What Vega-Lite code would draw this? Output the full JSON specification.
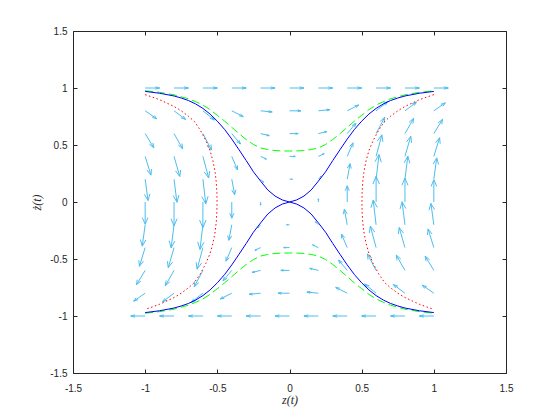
{
"$schema":"https://vega.github.io/schema/vega-lite/v6.json",
"width":433,"height":342,
"autosize":{"type":"none"},
"padding":{"left":73,"top":31,"right":54,"bottom":47},
"background":"white",
"config":{"view":{"stroke":"#262626","strokeWidth":1},
"axis":{"domain":false,"grid":false,"tickColor":"#262626","tickSize":-4,"tickWidth":1,"labelFont":"Liberation Sans","labelFontSize":10,"labelColor":"#262626","labelFlush":false,"labelOverlap":false,"titleFont":"Liberation Serif","titleFontStyle":"italic","titleFontWeight":"normal","titleFontSize":12,"titleColor":"#262626"}},
"datasets":{
"arrows":[
{"x":-1,"y":1,"tx":-0.9,"ty":1,"ax":-0.93,"ay":1.01,"bx":-0.93,"by":0.99},
{"x":-0.8,"y":1,"tx":-0.7,"ty":1,"ax":-0.73,"ay":1.01,"bx":-0.73,"by":0.99},
{"x":-0.6,"y":1,"tx":-0.5,"ty":1,"ax":-0.53,"ay":1.01,"bx":-0.53,"by":0.99},
{"x":-0.4,"y":1,"tx":-0.3,"ty":1,"ax":-0.33,"ay":1.01,"bx":-0.33,"by":0.99},
{"x":-0.2,"y":1,"tx":-0.1,"ty":1,"ax":-0.13,"ay":1.01,"bx":-0.13,"by":0.99},
{"x":0,"y":1,"tx":0.1,"ty":1,"ax":0.07,"ay":1.01,"bx":0.07,"by":0.99},
{"x":0.2,"y":1,"tx":0.3,"ty":1,"ax":0.27,"ay":1.01,"bx":0.27,"by":0.99},
{"x":0.4,"y":1,"tx":0.5,"ty":1,"ax":0.47,"ay":1.01,"bx":0.47,"by":0.99},
{"x":0.6,"y":1,"tx":0.7,"ty":1,"ax":0.67,"ay":1.01,"bx":0.67,"by":0.99},
{"x":0.8,"y":1,"tx":0.9,"ty":1,"ax":0.87,"ay":1.01,"bx":0.87,"by":0.99},
{"x":1,"y":1,"tx":1.1,"ty":1,"ax":1.07,"ay":1.01,"bx":1.07,"by":0.99},
{"x":-1,"y":0.8,"tx":-0.92,"ty":0.73,"ax":-0.937,"ay":0.759,"bx":-0.951,"by":0.743},
{"x":-0.8,"y":0.8,"tx":-0.72,"ty":0.724,"ax":-0.736,"ay":0.755,"bx":-0.752,"by":0.739},
{"x":-0.6,"y":0.8,"tx":-0.52,"ty":0.719,"ax":-0.536,"ay":0.751,"bx":-0.552,"by":0.735},
{"x":-0.4,"y":0.8,"tx":-0.32,"ty":0.749,"ax":-0.339,"ay":0.772,"bx":-0.349,"by":0.756},
{"x":-0.2,"y":0.8,"tx":-0.12,"ty":0.79,"ax":-0.143,"ay":0.801,"bx":-0.145,"by":0.785},
{"x":0,"y":0.8,"tx":0.08,"ty":0.8,"ax":0.056,"ay":0.808,"bx":0.056,"by":0.792},
{"x":0.2,"y":0.8,"tx":0.28,"ty":0.81,"ax":0.255,"ay":0.815,"bx":0.257,"by":0.799},
{"x":0.4,"y":0.8,"tx":0.48,"ty":0.851,"ax":0.451,"ay":0.844,"bx":0.461,"by":0.828},
{"x":0.6,"y":0.8,"tx":0.68,"ty":0.881,"ax":0.648,"ay":0.865,"bx":0.664,"by":0.849},
{"x":0.8,"y":0.8,"tx":0.88,"ty":0.876,"ax":0.848,"ay":0.861,"bx":0.864,"by":0.845},
{"x":1,"y":0.8,"tx":1.08,"ty":0.87,"ax":1.049,"ay":0.857,"bx":1.063,"by":0.841},
{"x":-1,"y":0.6,"tx":-0.94,"ty":0.475,"ax":-0.946,"ay":0.519,"bx":-0.971,"by":0.507},
{"x":-0.8,"y":0.6,"tx":-0.74,"ty":0.466,"ax":-0.745,"ay":0.512,"bx":-0.771,"by":0.5},
{"x":-0.6,"y":0.6,"tx":-0.54,"ty":0.456,"ax":-0.544,"ay":0.505,"bx":-0.572,"by":0.493},
{"x":-0.4,"y":0.6,"tx":-0.34,"ty":0.509,"ax":-0.349,"ay":0.542,"bx":-0.367,"by":0.53},
{"x":-0.2,"y":0.6,"tx":-0.14,"ty":0.582,"ax":-0.156,"ay":0.593,"bx":-0.16,"by":0.581},
{"x":0,"y":0.6,"tx":0.06,"ty":0.6,"ax":0.042,"ay":0.606,"bx":0.042,"by":0.594},
{"x":0.2,"y":0.6,"tx":0.26,"ty":0.618,"ax":0.24,"ay":0.619,"bx":0.244,"by":0.607},
{"x":0.4,"y":0.6,"tx":0.46,"ty":0.691,"ax":0.433,"ay":0.67,"bx":0.451,"by":0.658},
{"x":0.6,"y":0.6,"tx":0.66,"ty":0.744,"ax":0.628,"ay":0.707,"bx":0.656,"by":0.695},
{"x":0.8,"y":0.6,"tx":0.86,"ty":0.734,"ax":0.829,"ay":0.7,"bx":0.855,"by":0.688},
{"x":1,"y":0.6,"tx":1.06,"ty":0.725,"ax":1.03,"ay":0.694,"bx":1.055,"by":0.682},
{"x":-1,"y":0.4,"tx":-0.96,"ty":0.236,"ax":-0.956,"ay":0.289,"bx":-0.988,"by":0.281},
{"x":-0.8,"y":0.4,"tx":-0.76,"ty":0.224,"ax":-0.754,"ay":0.281,"bx":-0.79,"by":0.273},
{"x":-0.6,"y":0.4,"tx":-0.56,"ty":0.211,"ax":-0.553,"ay":0.272,"bx":-0.591,"by":0.264},
{"x":-0.4,"y":0.4,"tx":-0.36,"ty":0.281,"ax":-0.36,"ay":0.321,"bx":-0.384,"by":0.313},
{"x":-0.2,"y":0.4,"tx":-0.16,"ty":0.376,"ax":-0.17,"ay":0.387,"bx":-0.174,"by":0.379},
{"x":0,"y":0.4,"tx":0.04,"ty":0.4,"ax":0.028,"ay":0.404,"bx":0.028,"by":0.396},
{"x":0.2,"y":0.4,"tx":0.24,"ty":0.424,"ax":0.226,"ay":0.421,"bx":0.23,"by":0.413},
{"x":0.4,"y":0.4,"tx":0.44,"ty":0.519,"ax":0.416,"ay":0.487,"bx":0.44,"by":0.479},
{"x":0.6,"y":0.4,"tx":0.64,"ty":0.589,"ax":0.609,"ay":0.536,"bx":0.647,"by":0.528},
{"x":0.8,"y":0.4,"tx":0.84,"ty":0.576,"ax":0.81,"ay":0.527,"bx":0.846,"by":0.519},
{"x":1,"y":0.4,"tx":1.04,"ty":0.564,"ax":1.012,"ay":0.519,"bx":1.044,"by":0.511},
{"x":-1,"y":0.2,"tx":-0.98,"ty":0.013,"ax":-0.967,"ay":0.071,"bx":-1.005,"by":0.067},
{"x":-0.8,"y":0.2,"tx":-0.78,"ty":-0.002,"ax":-0.766,"ay":0.061,"bx":-0.806,"by":0.057},
{"x":-0.6,"y":0.2,"tx":-0.58,"ty":-0.016,"ax":-0.564,"ay":0.051,"bx":-0.608,"by":0.047},
{"x":-0.4,"y":0.2,"tx":-0.38,"ty":0.064,"ax":-0.372,"ay":0.107,"bx":-0.4,"by":0.103},
{"x":-0.2,"y":0.2,"tx":-0.18,"ty":0.173,"ax":-0.183,"ay":0.183,"bx":-0.189,"by":0.179},
{"x":0,"y":0.2,"tx":0.02,"ty":0.2,"ax":0.014,"ay":0.202,"bx":0.014,"by":0.198},
{"x":0.2,"y":0.2,"tx":0.22,"ty":0.227,"ax":0.211,"ay":0.221,"bx":0.217,"by":0.217},
{"x":0.4,"y":0.2,"tx":0.42,"ty":0.336,"ax":0.4,"ay":0.297,"bx":0.428,"by":0.293},
{"x":0.6,"y":0.2,"tx":0.62,"ty":0.416,"ax":0.592,"ay":0.353,"bx":0.636,"by":0.349},
{"x":0.8,"y":0.2,"tx":0.82,"ty":0.402,"ax":0.794,"ay":0.343,"bx":0.834,"by":0.339},
{"x":1,"y":0.2,"tx":1.02,"ty":0.387,"ax":0.995,"ay":0.333,"bx":1.033,"by":0.329},
{"x":-1,"y":0,"tx":-1,"ty":-0.195,"ax":-0.981,"ay":-0.137,"bx":-1.02,"by":-0.137},
{"x":-0.8,"y":0,"tx":-0.8,"ty":-0.21,"ax":-0.779,"ay":-0.147,"bx":-0.821,"by":-0.147},
{"x":-0.6,"y":0,"tx":-0.6,"ty":-0.225,"ax":-0.578,"ay":-0.158,"bx":-0.623,"by":-0.158},
{"x":-0.4,"y":0,"tx":-0.4,"ty":-0.142,"ax":-0.386,"ay":-0.099,"bx":-0.414,"by":-0.099},
{"x":-0.2,"y":0,"tx":-0.2,"ty":-0.028,"ax":-0.197,"ay":-0.02,"bx":-0.203,"by":-0.02},
{"x":0,"y":0,"tx":0,"ty":0,"ax":0,"ay":0,"bx":0,"by":0},
{"x":0.2,"y":0,"tx":0.2,"ty":0.028,"ax":0.197,"ay":0.02,"bx":0.203,"by":0.02},
{"x":0.4,"y":0,"tx":0.4,"ty":0.142,"ax":0.386,"ay":0.099,"bx":0.414,"by":0.099},
{"x":0.6,"y":0,"tx":0.6,"ty":0.225,"ax":0.578,"ay":0.158,"bx":0.623,"by":0.158},
{"x":0.8,"y":0,"tx":0.8,"ty":0.21,"ax":0.779,"ay":0.147,"bx":0.821,"by":0.147},
{"x":1,"y":0,"tx":1,"ty":0.195,"ax":0.981,"ay":0.137,"bx":1.02,"by":0.137},
{"x":-1,"y":-0.2,"tx":-1.02,"ty":-0.387,"ax":-0.995,"ay":-0.333,"bx":-1.033,"by":-0.329},
{"x":-0.8,"y":-0.2,"tx":-0.82,"ty":-0.402,"ax":-0.794,"ay":-0.343,"bx":-0.834,"by":-0.339},
{"x":-0.6,"y":-0.2,"tx":-0.62,"ty":-0.416,"ax":-0.592,"ay":-0.353,"bx":-0.636,"by":-0.349},
{"x":-0.4,"y":-0.2,"tx":-0.42,"ty":-0.336,"ax":-0.4,"ay":-0.297,"bx":-0.428,"by":-0.293},
{"x":-0.2,"y":-0.2,"tx":-0.22,"ty":-0.227,"ax":-0.211,"ay":-0.221,"bx":-0.217,"by":-0.217},
{"x":0,"y":-0.2,"tx":-0.02,"ty":-0.2,"ax":-0.014,"ay":-0.202,"bx":-0.014,"by":-0.198},
{"x":0.2,"y":-0.2,"tx":0.18,"ty":-0.173,"ax":0.183,"ay":-0.183,"bx":0.189,"by":-0.179},
{"x":0.4,"y":-0.2,"tx":0.38,"ty":-0.064,"ax":0.372,"ay":-0.107,"bx":0.4,"by":-0.103},
{"x":0.6,"y":-0.2,"tx":0.58,"ty":0.016,"ax":0.564,"ay":-0.051,"bx":0.608,"by":-0.047},
{"x":0.8,"y":-0.2,"tx":0.78,"ty":0.002,"ax":0.766,"ay":-0.061,"bx":0.806,"by":-0.057},
{"x":1,"y":-0.2,"tx":0.98,"ty":-0.013,"ax":0.967,"ay":-0.071,"bx":1.005,"by":-0.067},
{"x":-1,"y":-0.4,"tx":-1.04,"ty":-0.564,"ax":-1.012,"ay":-0.519,"bx":-1.044,"by":-0.511},
{"x":-0.8,"y":-0.4,"tx":-0.84,"ty":-0.576,"ax":-0.81,"ay":-0.527,"bx":-0.846,"by":-0.519},
{"x":-0.6,"y":-0.4,"tx":-0.64,"ty":-0.589,"ax":-0.609,"ay":-0.536,"bx":-0.647,"by":-0.528},
{"x":-0.4,"y":-0.4,"tx":-0.44,"ty":-0.519,"ax":-0.416,"ay":-0.487,"bx":-0.44,"by":-0.479},
{"x":-0.2,"y":-0.4,"tx":-0.24,"ty":-0.424,"ax":-0.226,"ay":-0.421,"bx":-0.23,"by":-0.413},
{"x":0,"y":-0.4,"tx":-0.04,"ty":-0.4,"ax":-0.028,"ay":-0.404,"bx":-0.028,"by":-0.396},
{"x":0.2,"y":-0.4,"tx":0.16,"ty":-0.376,"ax":0.17,"ay":-0.387,"bx":0.174,"by":-0.379},
{"x":0.4,"y":-0.4,"tx":0.36,"ty":-0.281,"ax":0.36,"ay":-0.321,"bx":0.384,"by":-0.313},
{"x":0.6,"y":-0.4,"tx":0.56,"ty":-0.211,"ax":0.553,"ay":-0.272,"bx":0.591,"by":-0.264},
{"x":0.8,"y":-0.4,"tx":0.76,"ty":-0.224,"ax":0.754,"ay":-0.281,"bx":0.79,"by":-0.273},
{"x":1,"y":-0.4,"tx":0.96,"ty":-0.236,"ax":0.956,"ay":-0.289,"bx":0.988,"by":-0.281},
{"x":-1,"y":-0.6,"tx":-1.06,"ty":-0.725,"ax":-1.03,"ay":-0.694,"bx":-1.055,"by":-0.682},
{"x":-0.8,"y":-0.6,"tx":-0.86,"ty":-0.734,"ax":-0.829,"ay":-0.7,"bx":-0.855,"by":-0.688},
{"x":-0.6,"y":-0.6,"tx":-0.66,"ty":-0.744,"ax":-0.628,"ay":-0.707,"bx":-0.656,"by":-0.695},
{"x":-0.4,"y":-0.6,"tx":-0.46,"ty":-0.691,"ax":-0.433,"ay":-0.67,"bx":-0.451,"by":-0.658},
{"x":-0.2,"y":-0.6,"tx":-0.26,"ty":-0.618,"ax":-0.24,"ay":-0.619,"bx":-0.244,"by":-0.607},
{"x":0,"y":-0.6,"tx":-0.06,"ty":-0.6,"ax":-0.042,"ay":-0.606,"bx":-0.042,"by":-0.594},
{"x":0.2,"y":-0.6,"tx":0.14,"ty":-0.582,"ax":0.156,"ay":-0.593,"bx":0.16,"by":-0.581},
{"x":0.4,"y":-0.6,"tx":0.34,"ty":-0.509,"ax":0.349,"ay":-0.542,"bx":0.367,"by":-0.53},
{"x":0.6,"y":-0.6,"tx":0.54,"ty":-0.456,"ax":0.544,"ay":-0.505,"bx":0.572,"by":-0.493},
{"x":0.8,"y":-0.6,"tx":0.74,"ty":-0.466,"ax":0.745,"ay":-0.512,"bx":0.771,"by":-0.5},
{"x":1,"y":-0.6,"tx":0.94,"ty":-0.475,"ax":0.946,"ay":-0.519,"bx":0.971,"by":-0.507},
{"x":-1,"y":-0.8,"tx":-1.08,"ty":-0.87,"ax":-1.049,"ay":-0.857,"bx":-1.063,"by":-0.841},
{"x":-0.8,"y":-0.8,"tx":-0.88,"ty":-0.876,"ax":-0.848,"ay":-0.861,"bx":-0.864,"by":-0.845},
{"x":-0.6,"y":-0.8,"tx":-0.68,"ty":-0.881,"ax":-0.648,"ay":-0.865,"bx":-0.664,"by":-0.849},
{"x":-0.4,"y":-0.8,"tx":-0.48,"ty":-0.851,"ax":-0.451,"ay":-0.844,"bx":-0.461,"by":-0.828},
{"x":-0.2,"y":-0.8,"tx":-0.28,"ty":-0.81,"ax":-0.255,"ay":-0.815,"bx":-0.257,"by":-0.799},
{"x":0,"y":-0.8,"tx":-0.08,"ty":-0.8,"ax":-0.056,"ay":-0.808,"bx":-0.056,"by":-0.792},
{"x":0.2,"y":-0.8,"tx":0.12,"ty":-0.79,"ax":0.143,"ay":-0.801,"bx":0.145,"by":-0.785},
{"x":0.4,"y":-0.8,"tx":0.32,"ty":-0.749,"ax":0.339,"ay":-0.772,"bx":0.349,"by":-0.756},
{"x":0.6,"y":-0.8,"tx":0.52,"ty":-0.719,"ax":0.536,"ay":-0.751,"bx":0.552,"by":-0.735},
{"x":0.8,"y":-0.8,"tx":0.72,"ty":-0.724,"ax":0.736,"ay":-0.755,"bx":0.752,"by":-0.739},
{"x":1,"y":-0.8,"tx":0.92,"ty":-0.73,"ax":0.937,"ay":-0.759,"bx":0.951,"by":-0.743},
{"x":-1,"y":-1,"tx":-1.1,"ty":-1,"ax":-1.07,"ay":-1.01,"bx":-1.07,"by":-0.99},
{"x":-0.8,"y":-1,"tx":-0.9,"ty":-1,"ax":-0.87,"ay":-1.01,"bx":-0.87,"by":-0.99},
{"x":-0.6,"y":-1,"tx":-0.7,"ty":-1,"ax":-0.67,"ay":-1.01,"bx":-0.67,"by":-0.99},
{"x":-0.4,"y":-1,"tx":-0.5,"ty":-1,"ax":-0.47,"ay":-1.01,"bx":-0.47,"by":-0.99},
{"x":-0.2,"y":-1,"tx":-0.3,"ty":-1,"ax":-0.27,"ay":-1.01,"bx":-0.27,"by":-0.99},
{"x":0,"y":-1,"tx":-0.1,"ty":-1,"ax":-0.07,"ay":-1.01,"bx":-0.07,"by":-0.99},
{"x":0.2,"y":-1,"tx":0.1,"ty":-1,"ax":0.13,"ay":-1.01,"bx":0.13,"by":-0.99},
{"x":0.4,"y":-1,"tx":0.3,"ty":-1,"ax":0.33,"ay":-1.01,"bx":0.33,"by":-0.99},
{"x":0.6,"y":-1,"tx":0.5,"ty":-1,"ax":0.53,"ay":-1.01,"bx":0.53,"by":-0.99},
{"x":0.8,"y":-1,"tx":0.7,"ty":-1,"ax":0.73,"ay":-1.01,"bx":0.73,"by":-0.99},
{"x":1,"y":-1,"tx":0.9,"ty":-1,"ax":0.93,"ay":-1.01,"bx":0.93,"by":-0.99}
],
"blue":[
{"p":"u","z":-1,"w":0.97},{"p":"u","z":-0.9,"w":0.954},{"p":"u","z":-0.8,"w":0.93},{"p":"u","z":-0.75,"w":0.912},{"p":"u","z":-0.7,"w":0.89},{"p":"u","z":-0.65,"w":0.86},{"p":"u","z":-0.6,"w":0.821},{"p":"u","z":-0.55,"w":0.771},{"p":"u","z":-0.5,"w":0.709},{"p":"u","z":-0.45,"w":0.637},{"p":"u","z":-0.4,"w":0.552},{"p":"u","z":-0.35,"w":0.459},{"p":"u","z":-0.3,"w":0.364},{"p":"u","z":-0.25,"w":0.265},{"p":"u","z":-0.2,"w":0.183},{"p":"u","z":-0.15,"w":0.105},{"p":"u","z":-0.1,"w":0.052},{"p":"u","z":-0.05,"w":0.018},{"p":"u","z":0,"w":0},
{"p":"u","z":0.05,"w":0.018},{"p":"u","z":0.1,"w":0.052},{"p":"u","z":0.15,"w":0.105},{"p":"u","z":0.2,"w":0.183},{"p":"u","z":0.25,"w":0.265},{"p":"u","z":0.3,"w":0.364},{"p":"u","z":0.35,"w":0.459},{"p":"u","z":0.4,"w":0.552},{"p":"u","z":0.45,"w":0.637},{"p":"u","z":0.5,"w":0.709},{"p":"u","z":0.55,"w":0.771},{"p":"u","z":0.6,"w":0.821},{"p":"u","z":0.65,"w":0.86},{"p":"u","z":0.7,"w":0.89},{"p":"u","z":0.75,"w":0.912},{"p":"u","z":0.8,"w":0.93},{"p":"u","z":0.9,"w":0.954},{"p":"u","z":1,"w":0.97},
{"p":"l","z":-1,"w":-0.97},{"p":"l","z":-0.9,"w":-0.954},{"p":"l","z":-0.8,"w":-0.93},{"p":"l","z":-0.75,"w":-0.912},{"p":"l","z":-0.7,"w":-0.89},{"p":"l","z":-0.65,"w":-0.86},{"p":"l","z":-0.6,"w":-0.821},{"p":"l","z":-0.55,"w":-0.771},{"p":"l","z":-0.5,"w":-0.709},{"p":"l","z":-0.45,"w":-0.637},{"p":"l","z":-0.4,"w":-0.552},{"p":"l","z":-0.35,"w":-0.459},{"p":"l","z":-0.3,"w":-0.364},{"p":"l","z":-0.25,"w":-0.265},{"p":"l","z":-0.2,"w":-0.183},{"p":"l","z":-0.15,"w":-0.105},{"p":"l","z":-0.1,"w":-0.052},{"p":"l","z":-0.05,"w":-0.018},{"p":"l","z":0,"w":0},
{"p":"l","z":0.05,"w":-0.018},{"p":"l","z":0.1,"w":-0.052},{"p":"l","z":0.15,"w":-0.105},{"p":"l","z":0.2,"w":-0.183},{"p":"l","z":0.25,"w":-0.265},{"p":"l","z":0.3,"w":-0.364},{"p":"l","z":0.35,"w":-0.459},{"p":"l","z":0.4,"w":-0.552},{"p":"l","z":0.45,"w":-0.637},{"p":"l","z":0.5,"w":-0.709},{"p":"l","z":0.55,"w":-0.771},{"p":"l","z":0.6,"w":-0.821},{"p":"l","z":0.65,"w":-0.86},{"p":"l","z":0.7,"w":-0.89},{"p":"l","z":0.75,"w":-0.912},{"p":"l","z":0.8,"w":-0.93},{"p":"l","z":0.9,"w":-0.954},{"p":"l","z":1,"w":-0.97}
],
"green":[
{"p":"u","z":-1,"w":0.976},{"p":"u","z":-0.9,"w":0.962},{"p":"u","z":-0.8,"w":0.94},{"p":"u","z":-0.7,"w":0.905},{"p":"u","z":-0.65,"w":0.88},{"p":"u","z":-0.6,"w":0.85},{"p":"u","z":-0.55,"w":0.81},{"p":"u","z":-0.5,"w":0.76},{"p":"u","z":-0.45,"w":0.71},{"p":"u","z":-0.4,"w":0.655},{"p":"u","z":-0.35,"w":0.6},{"p":"u","z":-0.3,"w":0.548},{"p":"u","z":-0.25,"w":0.505},{"p":"u","z":-0.2,"w":0.474},{"p":"u","z":-0.15,"w":0.46},{"p":"u","z":-0.1,"w":0.451},{"p":"u","z":-0.05,"w":0.448},{"p":"u","z":0,"w":0.447},
{"p":"u","z":0.05,"w":0.448},{"p":"u","z":0.1,"w":0.451},{"p":"u","z":0.15,"w":0.46},{"p":"u","z":0.2,"w":0.474},{"p":"u","z":0.25,"w":0.505},{"p":"u","z":0.3,"w":0.548},{"p":"u","z":0.35,"w":0.6},{"p":"u","z":0.4,"w":0.655},{"p":"u","z":0.45,"w":0.71},{"p":"u","z":0.5,"w":0.76},{"p":"u","z":0.55,"w":0.81},{"p":"u","z":0.6,"w":0.85},{"p":"u","z":0.65,"w":0.88},{"p":"u","z":0.7,"w":0.905},{"p":"u","z":0.8,"w":0.94},{"p":"u","z":0.9,"w":0.962},{"p":"u","z":1,"w":0.976},
{"p":"l","z":-1,"w":-0.976},{"p":"l","z":-0.9,"w":-0.962},{"p":"l","z":-0.8,"w":-0.94},{"p":"l","z":-0.7,"w":-0.905},{"p":"l","z":-0.65,"w":-0.88},{"p":"l","z":-0.6,"w":-0.85},{"p":"l","z":-0.55,"w":-0.81},{"p":"l","z":-0.5,"w":-0.76},{"p":"l","z":-0.45,"w":-0.71},{"p":"l","z":-0.4,"w":-0.655},{"p":"l","z":-0.35,"w":-0.6},{"p":"l","z":-0.3,"w":-0.548},{"p":"l","z":-0.25,"w":-0.505},{"p":"l","z":-0.2,"w":-0.474},{"p":"l","z":-0.15,"w":-0.46},{"p":"l","z":-0.1,"w":-0.451},{"p":"l","z":-0.05,"w":-0.448},{"p":"l","z":0,"w":-0.447},
{"p":"l","z":0.05,"w":-0.448},{"p":"l","z":0.1,"w":-0.451},{"p":"l","z":0.15,"w":-0.46},{"p":"l","z":0.2,"w":-0.474},{"p":"l","z":0.25,"w":-0.505},{"p":"l","z":0.3,"w":-0.548},{"p":"l","z":0.35,"w":-0.6},{"p":"l","z":0.4,"w":-0.655},{"p":"l","z":0.45,"w":-0.71},{"p":"l","z":0.5,"w":-0.76},{"p":"l","z":0.55,"w":-0.81},{"p":"l","z":0.6,"w":-0.85},{"p":"l","z":0.65,"w":-0.88},{"p":"l","z":0.7,"w":-0.905},{"p":"l","z":0.8,"w":-0.94},{"p":"l","z":0.9,"w":-0.962},{"p":"l","z":1,"w":-0.976}
],
"red":[
{"p":"L","i":0,"z":-1,"w":0.942},{"p":"L","i":1,"z":-0.95,"w":0.92},{"p":"L","i":2,"z":-0.9,"w":0.897},{"p":"L","i":3,"z":-0.85,"w":0.868},{"p":"L","i":4,"z":-0.8,"w":0.838},{"p":"L","i":5,"z":-0.75,"w":0.8},{"p":"L","i":6,"z":-0.7,"w":0.752},{"p":"L","i":7,"z":-0.66,"w":0.708},{"p":"L","i":8,"z":-0.62,"w":0.635},{"p":"L","i":9,"z":-0.58,"w":0.54},{"p":"L","i":10,"z":-0.55,"w":0.45},{"p":"L","i":11,"z":-0.53,"w":0.36},{"p":"L","i":12,"z":-0.515,"w":0.26},{"p":"L","i":13,"z":-0.507,"w":0.17},{"p":"L","i":14,"z":-0.503,"w":0.08},{"p":"L","i":15,"z":-0.502,"w":0},
{"p":"L","i":16,"z":-0.503,"w":-0.08},{"p":"L","i":17,"z":-0.507,"w":-0.17},{"p":"L","i":18,"z":-0.515,"w":-0.26},{"p":"L","i":19,"z":-0.53,"w":-0.36},{"p":"L","i":20,"z":-0.55,"w":-0.45},{"p":"L","i":21,"z":-0.58,"w":-0.54},{"p":"L","i":22,"z":-0.62,"w":-0.635},{"p":"L","i":23,"z":-0.66,"w":-0.708},{"p":"L","i":24,"z":-0.7,"w":-0.752},{"p":"L","i":25,"z":-0.75,"w":-0.8},{"p":"L","i":26,"z":-0.8,"w":-0.838},{"p":"L","i":27,"z":-0.85,"w":-0.868},{"p":"L","i":28,"z":-0.9,"w":-0.897},{"p":"L","i":29,"z":-0.95,"w":-0.92},{"p":"L","i":30,"z":-1,"w":-0.942},
{"p":"R","i":0,"z":1,"w":0.942},{"p":"R","i":1,"z":0.95,"w":0.92},{"p":"R","i":2,"z":0.9,"w":0.897},{"p":"R","i":3,"z":0.85,"w":0.868},{"p":"R","i":4,"z":0.8,"w":0.838},{"p":"R","i":5,"z":0.75,"w":0.8},{"p":"R","i":6,"z":0.7,"w":0.752},{"p":"R","i":7,"z":0.66,"w":0.708},{"p":"R","i":8,"z":0.62,"w":0.635},{"p":"R","i":9,"z":0.58,"w":0.54},{"p":"R","i":10,"z":0.55,"w":0.45},{"p":"R","i":11,"z":0.53,"w":0.36},{"p":"R","i":12,"z":0.515,"w":0.26},{"p":"R","i":13,"z":0.507,"w":0.17},{"p":"R","i":14,"z":0.503,"w":0.08},{"p":"R","i":15,"z":0.502,"w":0},
{"p":"R","i":16,"z":0.503,"w":-0.08},{"p":"R","i":17,"z":0.507,"w":-0.17},{"p":"R","i":18,"z":0.515,"w":-0.26},{"p":"R","i":19,"z":0.53,"w":-0.36},{"p":"R","i":20,"z":0.55,"w":-0.45},{"p":"R","i":21,"z":0.58,"w":-0.54},{"p":"R","i":22,"z":0.62,"w":-0.635},{"p":"R","i":23,"z":0.66,"w":-0.708},{"p":"R","i":24,"z":0.7,"w":-0.752},{"p":"R","i":25,"z":0.75,"w":-0.8},{"p":"R","i":26,"z":0.8,"w":-0.838},{"p":"R","i":27,"z":0.85,"w":-0.868},{"p":"R","i":28,"z":0.9,"w":-0.897},{"p":"R","i":29,"z":0.95,"w":-0.92},{"p":"R","i":30,"z":1,"w":-0.942}
]
},
"resolve":{"axis":{"x":"independent","y":"independent"}},
"layer":[
{"data":{"name":"arrows"},"mark":{"type":"rule","color":"#4DBEEE","strokeWidth":1},
"encoding":{
"x":{"field":"x","type":"quantitative","scale":{"domain":[-1.5,1.5],"nice":false,"zero":false},"axis":{"orient":"bottom","values":[-1.5,-1,-0.5,0,0.5,1,1.5],"format":"~g","labelExpr":"replace(datum.label, '−', '-')","title":"z(t)","labelPadding":14,"titlePadding":1}},
"y":{"field":"y","type":"quantitative","scale":{"domain":[-1.5,1.5],"nice":false,"zero":false},"axis":{"orient":"left","values":[-1.5,-1,-0.5,0,0.5,1,1.5],"format":"~g","labelExpr":"replace(datum.label, '−', '-')","title":"ż(t)","labelPadding":10,"titlePadding":6}},
"x2":{"field":"tx"},"y2":{"field":"ty"}}},
{"data":{"name":"arrows"},"mark":{"type":"rule","color":"#4DBEEE","strokeWidth":1},
"encoding":{"x":{"field":"tx","type":"quantitative","axis":null},"y":{"field":"ty","type":"quantitative","axis":null},"x2":{"field":"ax"},"y2":{"field":"ay"}}},
{"data":{"name":"arrows"},"mark":{"type":"rule","color":"#4DBEEE","strokeWidth":1},
"encoding":{"x":{"field":"tx","type":"quantitative","axis":null},"y":{"field":"ty","type":"quantitative","axis":null},"x2":{"field":"bx"},"y2":{"field":"by"}}},
{"data":{"name":"red"},"mark":{"type":"line","color":"#FF0000","strokeWidth":1,"strokeDash":[1.5,2.5]},
"encoding":{"x":{"field":"z","type":"quantitative","axis":null},"y":{"field":"w","type":"quantitative","axis":null},"detail":{"field":"p"},"order":{"field":"i","type":"quantitative"}}},
{"data":{"name":"green"},"mark":{"type":"line","color":"#00FF00","strokeWidth":1,"strokeDash":[8,4]},
"encoding":{"x":{"field":"z","type":"quantitative","axis":null},"y":{"field":"w","type":"quantitative","axis":null},"detail":{"field":"p"}}},
{"data":{"name":"blue"},"mark":{"type":"line","color":"#0000FF","strokeWidth":1},
"encoding":{"x":{"field":"z","type":"quantitative","axis":{"orient":"top","values":[-1.5,-1,-0.5,0,0.5,1,1.5],"labels":false,"title":null}},"y":{"field":"w","type":"quantitative","axis":{"orient":"right","values":[-1.5,-1,-0.5,0,0.5,1,1.5],"labels":false,"title":null}},"detail":{"field":"p"}}}
]
}
